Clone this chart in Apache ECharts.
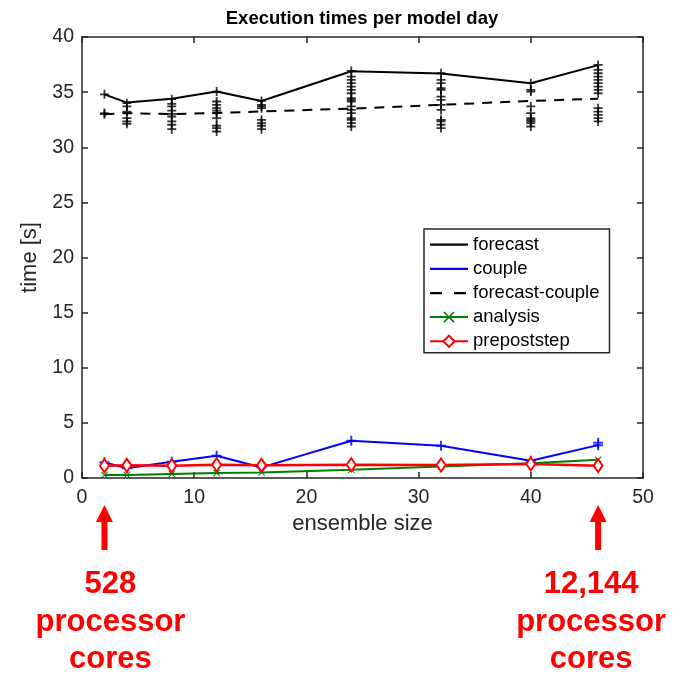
<!DOCTYPE html>
<html>
<head>
<meta charset="utf-8">
<script src="https://cdn.jsdelivr.net/npm/echarts@6/dist/echarts.min.js"></script>
<style>
  html, body { margin: 0; padding: 0; background: #fff; }
  #main { width: 689px; height: 674px; }
</style>
</head>
<body>
<div id="main"></div>
<script>
// ensemble sizes
var sizes = [2, 4, 8, 12, 16, 24, 32, 40, 46];
// mean times per model day [s]
var forecast = [34.8, 34.05, 34.4, 35.05, 34.2, 36.9, 36.7, 35.8, 37.45];
var forecastCouple = [33.0, 33.1, 33.0, 33.1, 33.25, 33.5, 33.85, 34.2, 34.4];
var couple = [1.42, 0.88, 1.48, 2.02, 0.96, 3.38, 2.93, 1.57, 2.98];
var analysis = [0.27, 0.27, 0.36, 0.45, 0.51, 0.75, 1.05, 1.33, 1.65];
var prepoststep = [1.11, 1.15, 1.11, 1.2, 1.15, 1.2, 1.18, 1.27, 1.12];
// individual forecast runs per ensemble size
var forecastRuns = [
  [34.8, 33.0, 33.1],
  [34.0, 33.7, 33.24, 32.64, 32.34, 32.13],
  [34.36, 33.94, 33.7, 33.33, 33.03, 32.79, 32.34, 32.04, 31.64],
  [35.05, 34.15, 33.85, 33.54, 33.33, 33.09, 32.64, 31.95, 31.74, 31.43],
  [34.2, 33.85, 33.7, 33.54, 32.49, 32.19, 31.95, 31.64],
  [36.92, 36.41, 36.11, 35.81, 35.5, 35.2, 34.9, 34.45, 34.3, 34.15, 33.7, 33.39, 33.09, 32.64, 32.49, 32.19, 31.88],
  [36.71, 36.11, 35.81, 35.35, 35.2, 34.6, 34.3, 33.85, 33.39, 32.49, 32.34, 32.04, 31.74],
  [35.81, 35.2, 35.05, 33.7, 33.09, 32.64, 32.49, 32.34, 32.19, 31.88],
  [37.47, 37.01, 36.71, 36.41, 36.11, 35.81, 35.5, 35.2, 34.9, 33.54, 33.24, 32.94, 32.64, 32.34]
];
// individual couple runs per ensemble size
var coupleRuns = [[1.42], [0.88], [1.48], [2.02], [0.96], [3.38], [2.93], [1.57], [2.98, 3.2]];
// annotations: ensemble size -> cores
var coreSizes = [2, 46];
var coreLabels = ['528', '12,144'];
var coreTextShift = [6, -7];

var FONT = 'Liberation Sans, Arial, sans-serif';
var plusPath = 'path://M4,0h2v4h4v2h-4v4h-2v-4h-4v-2h4z';
var xPath = 'path://M1,0L5,4L9,0L10,1L6,5L10,9L9,10L5,6L1,10L0,9L4,5L0,1z';
// legend line icons (tiny corner dots keep the 38x14 box so the line is not stretched)
var corners = 'M0,0h0.01v0.01h-0.01z M37.99,13.99h0.01v0.01h-0.01z ';
var solidIcon = 'path://' + corners + 'M0,6h38v2.2h-38z';
var dashIcon = 'path://' + corners + 'M0,6h12v2.4h-12z M24,6h12v2.4h-12z';

function pairs(ys) {
  return sizes.map(function (x, i) { return [x, ys[i]]; });
}
function runPairs(runs) {
  var out = [];
  runs.forEach(function (list, i) {
    list.forEach(function (v) { out.push([sizes[i], v]); });
  });
  return out;
}

var chart = echarts.init(document.getElementById('main'));

function axisBase() {
  return {
    axisLine: { show: true, onZero: false, lineStyle: { color: '#262626', width: 1.5 } },
    axisTick: { show: true, inside: true, length: 6, lineStyle: { color: '#262626', width: 1.5 } },
    splitLine: { show: false }
  };
}

chart.setOption({
  animation: false,
  textStyle: { fontFamily: FONT },
  title: {
    text: 'Execution times per model day',
    left: 357,
    textAlign: 'center',
    top: 4,
    textStyle: { fontFamily: FONT, fontSize: 18.5, fontWeight: 'bold', color: '#000' }
  },
  grid: { left: 82, right: 46, top: 37, bottom: 196 },
  legend: {
    orient: 'vertical',
    left: 424,
    top: 229,
    padding: [6, 10, 2, 5],
    itemGap: 5.2,
    itemWidth: 38,
    itemHeight: 14,
    borderColor: '#262626',
    borderWidth: 1.5,
    backgroundColor: '#fff',
    textStyle: { fontFamily: FONT, fontSize: 18.5, lineHeight: 18, color: '#000' },
    data: [
      { name: 'forecast', icon: solidIcon },
      { name: 'couple', icon: solidIcon },
      { name: 'forecast-couple', icon: dashIcon },
      'analysis',
      'prepoststep'
    ]
  },
  xAxis: [
    Object.assign(axisBase(), {
      type: 'value', min: 0, max: 50, interval: 10, position: 'bottom',
      name: 'ensemble size', nameLocation: 'middle', nameGap: 33,
      nameTextStyle: { fontFamily: FONT, fontSize: 22, color: '#262626' },
      axisLabel: { fontFamily: FONT, fontSize: 19.5, color: '#262626', margin: 10 }
    }),
    Object.assign(axisBase(), {
      type: 'value', min: 0, max: 50, interval: 10, position: 'top',
      axisLabel: { show: false }
    })
  ],
  yAxis: [
    Object.assign(axisBase(), {
      type: 'value', min: 0, max: 40, interval: 5, position: 'left',
      name: 'time [s]', nameLocation: 'middle', nameGap: 36,
      nameTextStyle: { fontFamily: FONT, fontSize: 22, color: '#262626' },
      axisLabel: { fontFamily: FONT, fontSize: 19.5, color: '#262626', margin: 8 }
    }),
    Object.assign(axisBase(), {
      type: 'value', min: 0, max: 40, interval: 5, position: 'right',
      axisLabel: { show: false }
    })
  ],
  series: [
    {
      name: 'forecast-runs', type: 'scatter', symbol: plusPath, symbolSize: 9,
      itemStyle: { color: '#000' }, data: runPairs(forecastRuns), z: 3
    },
    {
      name: 'couple-runs', type: 'scatter', symbol: plusPath, symbolSize: 10,
      itemStyle: { color: '#0000ff' }, data: runPairs(coupleRuns), z: 3
    },
    {
      name: 'forecast', type: 'line', symbol: 'none', data: pairs(forecast),
      lineStyle: { color: '#000', width: 2 }, itemStyle: { color: '#000' }
    },
    {
      name: 'couple', type: 'line', symbol: 'none', data: pairs(couple),
      lineStyle: { color: '#0000ff', width: 2 }, itemStyle: { color: '#0000ff' }
    },
    {
      name: 'forecast-couple', type: 'line', symbol: 'none', data: pairs(forecastCouple),
      lineStyle: { color: '#000', width: 2, type: [10, 8] }, itemStyle: { color: '#000' }
    },
    {
      name: 'analysis', type: 'line', symbol: xPath, symbolSize: 7, data: pairs(analysis),
      lineStyle: { color: '#008000', width: 2 }, itemStyle: { color: '#008000' }
    },
    {
      name: 'prepoststep', type: 'line', symbol: 'emptyDiamond', symbolSize: [9, 13], data: pairs(prepoststep),
      lineStyle: { color: '#ff0000', width: 2.5 },
      itemStyle: { color: '#ff0000', borderColor: '#ff0000', borderWidth: 2 }
    }
  ]
});

// red arrows and core-count labels under the x axis
var graphics = [];
coreSizes.forEach(function (s, i) {
  var px = chart.convertToPixel({ xAxisIndex: 0 }, s);
  var top = 505, bottom = 550;
  graphics.push({
    type: 'polygon',
    shape: {
      points: [
        [px, top], [px + 8.5, top + 17], [px + 3, top + 17], [px + 3, bottom],
        [px - 3, bottom], [px - 3, top + 17], [px - 8.5, top + 17]
      ]
    },
    style: { fill: '#ff0000' }
  });
  graphics.push({
    type: 'text',
    x: px + coreTextShift[i],
    y: 622,
    style: {
      text: coreLabels[i] + '\nprocessor\ncores',
      fill: '#ff0000',
      font: 'bold 31px ' + FONT,
      align: 'center',
      verticalAlign: 'middle',
      lineHeight: 37.5
    }
  });
});
chart.setOption({ graphic: graphics });
</script>
</body>
</html>
